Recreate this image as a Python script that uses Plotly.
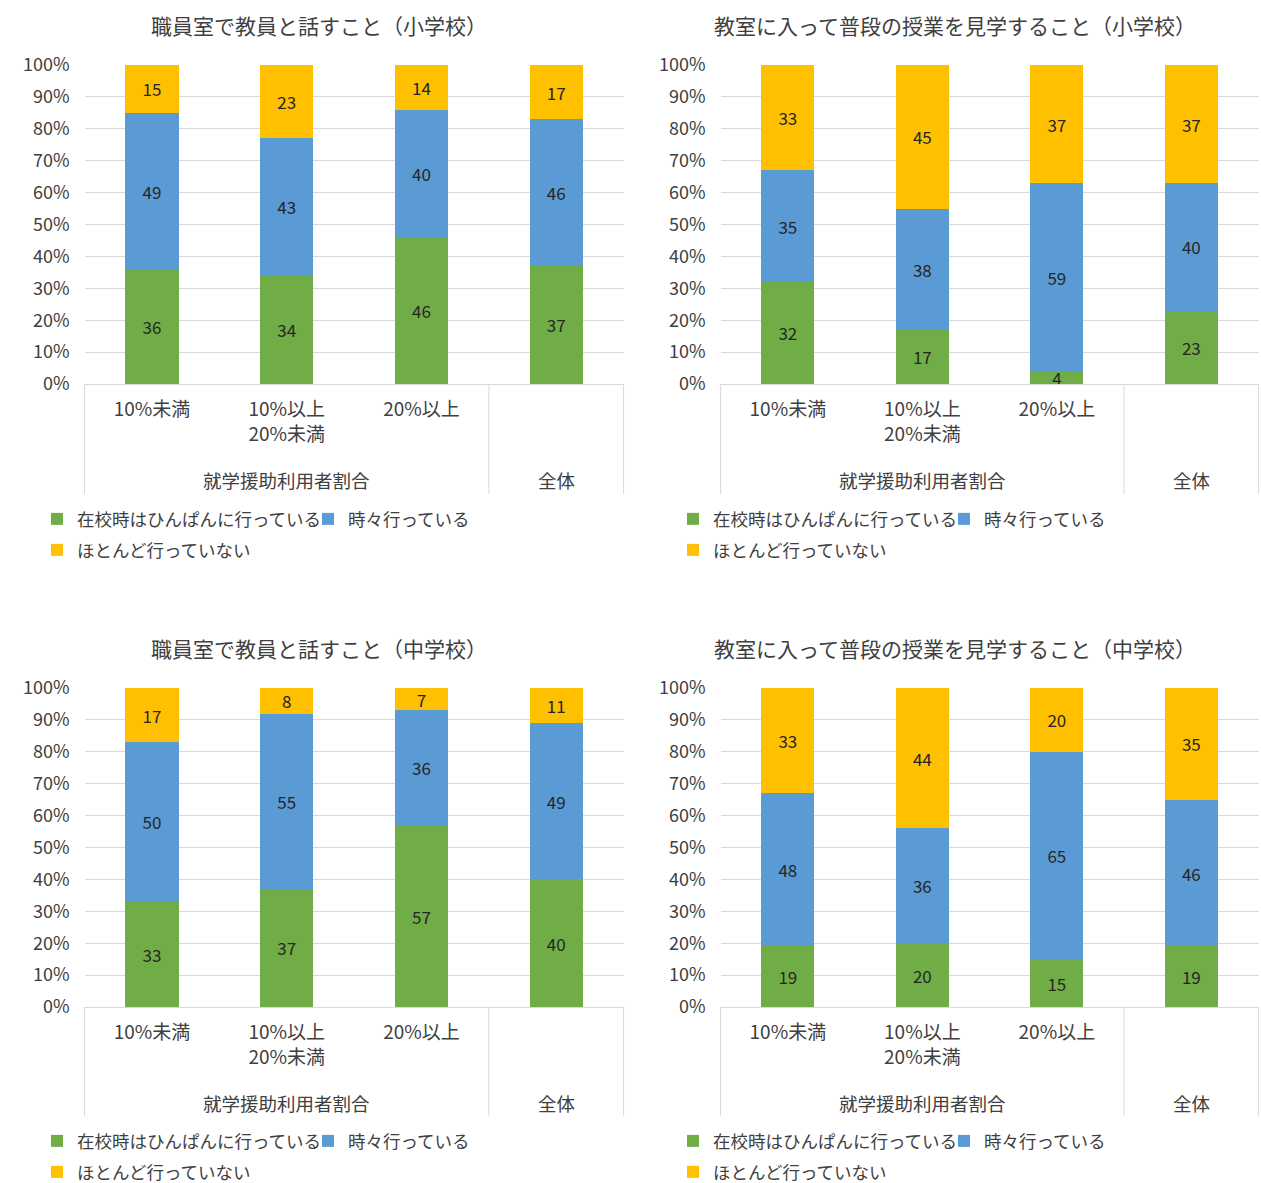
import plotly.graph_objects as go

W, H = 1261, 1183
FONT = "Noto Sans CJK JP"
TEXT = "#404040"
GRID = "#D9D9D9"

# Category axis (inner level) and the outer grouping level
categories = ["10%未満", "10%以上20%未満", "20%以上", "全体"]
tick_labels = ["10%未満", "10%以上<br>20%未満", "20%以上", ""]
group_labels = ["就学援助利用者割合", "全体"]
group_centers = [1, 3]  # category index at the middle of each group

series_names = ["在校時はひんぱんに行っている", "時々行っている", "ほとんど行っていない"]
series_colors = ["#70AD47", "#5B9BD5", "#FFC000"]

titles = [
    "職員室で教員と話すこと（小学校）",
    "教室に入って普段の授業を見学すること（小学校）",
    "職員室で教員と話すこと（中学校）",
    "教室に入って普段の授業を見学すること（中学校）",
]

# Percent of respondents per category
staff_elem_often = [36, 34, 46, 37]
staff_elem_sometimes = [49, 43, 40, 46]
staff_elem_rarely = [15, 23, 14, 17]

class_elem_often = [32, 17, 4, 23]
class_elem_sometimes = [35, 38, 59, 40]
class_elem_rarely = [33, 45, 37, 37]

staff_jh_often = [33, 37, 57, 40]
staff_jh_sometimes = [50, 55, 36, 49]
staff_jh_rarely = [17, 8, 7, 11]

class_jh_often = [19, 20, 15, 19]
class_jh_sometimes = [48, 36, 65, 46]
class_jh_rarely = [33, 44, 20, 35]

panel_data = [
    [staff_elem_often, staff_elem_sometimes, staff_elem_rarely],
    [class_elem_often, class_elem_sometimes, class_elem_rarely],
    [staff_jh_often, staff_jh_sometimes, staff_jh_rarely],
    [class_jh_often, class_jh_sometimes, class_jh_rarely],
]

y_ticks = list(range(0, 101, 10))
y_tick_labels = ["%d%%" % v for v in y_ticks]

# Plot-area boxes in pixels: left, right, top(100%), bottom(0%)
boxes = [
    (84.6, 623.6, 65, 384),
    (720.6, 1258.6, 65, 384),
    (84.6, 623.6, 688, 1007),
    (720.6, 1258.6, 688, 1007),
]
# Chart-area offset (x) and vertical anchors for each panel
panel_x0 = [0, 636, 0, 636]
title_y = [25, 25, 648, 648]
cat_bottom = [494, 494, 1116, 1116]
group_y = [480, 480, 1103, 1103]
legend_rows = [(519, 550), (519, 550), (1141, 1172), (1141, 1172)]


def px(x):
    return x / W


def py(y):
    return 1 - y / H


fig = go.Figure()
layout = dict(
    width=W, height=H,
    margin=dict(l=0, r=0, t=0, b=0, autoexpand=False),
    paper_bgcolor="white", plot_bgcolor="white",
    barmode="stack", bargap=0.605,
    font=dict(family=FONT, size=18, color=TEXT),
    uniformtext=dict(minsize=17, mode="show"),
    annotations=[], shapes=[],
)

legend_n = 0
for p in range(4):
    sfx = "" if p == 0 else str(p + 1)
    xa, ya = "x" + sfx, "y" + sfx
    left, right, top, bottom = boxes[p]

    layout["xaxis" + sfx] = dict(
        domain=[px(left), px(right)], anchor=ya,
        type="category", categoryorder="array", categoryarray=categories,
        range=[-0.5, 3.5], tickmode="array", tickvals=categories, ticktext=tick_labels,
        showgrid=False, showline=False, zeroline=False, ticks="",
        tickfont=dict(size=19, color=TEXT), ticklabelstandoff=12, fixedrange=True,
    )
    layout["yaxis" + sfx] = dict(
        domain=[py(bottom), py(top)], anchor=xa,
        range=[0, 100], tickmode="array", tickvals=y_ticks, ticktext=y_tick_labels,
        showgrid=True, gridcolor=GRID, gridwidth=1,
        zeroline=True, zerolinecolor=GRID, zerolinewidth=1,
        showline=False, ticks="", ticklabelstandoff=14,
        tickfont=dict(size=18, color=TEXT), fixedrange=True,
    )

    x0 = panel_x0[p]
    legend_pos = [(x0 + 37, legend_rows[p][0]), (x0 + 308, legend_rows[p][0]),
                  (x0 + 37, legend_rows[p][1])]

    for s, vals in enumerate(panel_data[p]):
        legend_n += 1
        lid = "legend" if legend_n == 1 else "legend%d" % legend_n
        fig.add_trace(go.Bar(
            x=categories, y=vals, name=series_names[s],
            marker=dict(color=series_colors[s], line=dict(width=0)),
            text=vals, textposition="inside", insidetextanchor="middle",
            textangle=0, textfont=dict(size=17, color="#262626"),
            xaxis=xa, yaxis=ya, legend=lid, showlegend=True,
            hoverinfo="skip",
        ))
        lx, ly = legend_pos[s]
        layout[lid] = dict(
            x=px(lx), y=py(ly), xanchor="left", yanchor="middle",
            xref="container", yref="container",
            orientation="h", bgcolor="rgba(0,0,0,0)", borderwidth=0,
            font=dict(size=17.5, color=TEXT), itemclick=False, itemdoubleclick=False,
        )

    # Subplot title
    layout["annotations"].append(dict(
        text=titles[p], xref="paper", yref="paper",
        x=px(x0 + 319), y=py(title_y[p]), xanchor="center", yanchor="middle",
        showarrow=False, font=dict(size=21, color=TEXT),
    ))
    # Outer category level
    for g, label in enumerate(group_labels):
        layout["annotations"].append(dict(
            text=label, xref=xa, yref="paper",
            x=group_centers[g], y=py(group_y[p]), xanchor="center", yanchor="middle",
            showarrow=False, font=dict(size=18.5, color=TEXT),
        ))
    # Dividers of the multi-level category axis
    for d in (0, 0.75, 1):
        layout["shapes"].append(dict(
            type="line", xref=xa + " domain", yref="paper",
            x0=d, x1=d, y0=py(bottom), y1=py(cat_bottom[p]),
            line=dict(color=GRID, width=1),
        ))

fig.update_layout(**layout)
fig.write_html("out.html")
